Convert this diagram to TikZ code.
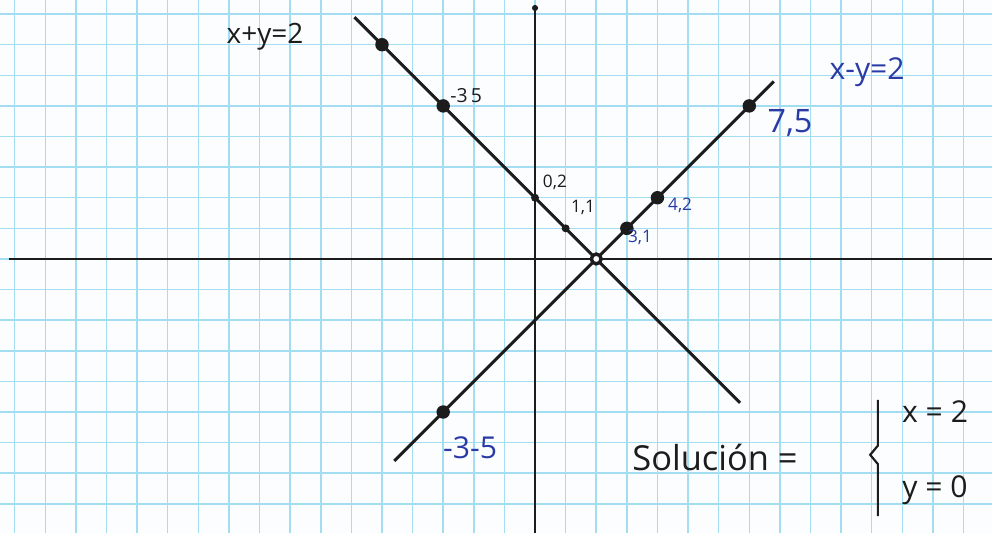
\documentclass[tikz,border=0pt]{standalone}
\usepackage{fontspec}
\setmainfont{Open Sans}
\usetikzlibrary{positioning,calc}
\definecolor{paper}{HTML}{FBFDFE}
\definecolor{gridline}{HTML}{A3DDF2}
\definecolor{ink}{HTML}{1C1C1C}
\definecolor{pen}{HTML}{2A3BA6}

\begin{document}
\begin{tikzpicture}[x=0.5cm,y=0.5cm,
  pt/.style={circle,fill=ink,inner sep=0pt,minimum size=2.2mm},
  ptsmall/.style={circle,fill=ink,inner sep=0pt,minimum size=1.3mm},
  ptopen/.style={circle,draw=ink,fill=paper,line width=1.6pt,inner sep=0pt,minimum size=1.6mm},
  lab/.style={text=ink,inner sep=1pt},
  bluelab/.style={text=pen,inner sep=1pt}]
\fill[paper] (-17.48,-8.95) rectangle (14.93,8.46);
\useasboundingbox (-17.48,-8.95) rectangle (14.93,8.46);
\draw[gridline,line width=0.7pt,step=0.5cm] (-17.48,-8.95) grid (14.93,8.46);
% axes
\coordinate (xl) at (-17.2,0);\coordinate (xr) at (14.93,0);
\coordinate (yt) at (0,8.2);\coordinate (yb) at (0,-8.95);
\draw[ink,line width=1.3pt] (xl)--(xr);\draw[ink,line width=1.3pt] (yt)--(yb);
\fill[ink] (yt) circle (0.1);
% lines
\coordinate (a1) at (-5.9,7.9);\coordinate (a2) at (6.7,-4.7);
\coordinate (b1) at (-4.6,-6.6);\coordinate (b2) at (7.8,5.8);
\draw[ink,line width=1.4pt] (a1)--(a2);\draw[ink,line width=1.4pt] (b1)--(b2);
% points
\node[pt] (p57) at (-5,7){};\node[pt] (p35) at (-3,5){};
\node[ptsmall] (p02) at (0,2){};\node[ptsmall] (p11) at (1,1){};
\node[ptopen] (p20) at (2,0){};
\node[pt] (p31) at (3,1){};\node[pt] (p42) at (4,2){};
\node[pt] (p75) at (7,5){};\node[pt] (pm35) at (-3,-5){};
% labels
\node[lab,font=\fontsize{13}{15}\selectfont] (eqa) at (-8.82,7.25){x+y=2};
\node[bluelab,font=\fontsize{14}{16}\selectfont] (eqb) at (10.85,6.11){x-y=2};
\node[lab,font=\fontsize{9}{11}\selectfont] (l35) at (-2.25,5.35){-3\,5};
\node[lab,font=\fontsize{8}{10}\selectfont] (l02) at (0.65,2.5){0,2};
\node[lab,font=\fontsize{8}{10}\selectfont] (l11) at (1.57,1.67){1,1};
\node[bluelab,font=\fontsize{8}{10}\selectfont] (l31) at (3.43,0.72){3,1};
\node[bluelab,font=\fontsize{8}{10}\selectfont] (l42) at (4.74,1.76){4,2};
\node[bluelab,font=\fontsize{15}{17}\selectfont] (l75) at (8.33,4.44){7,5};
\node[bluelab,font=\fontsize{14}{16}\selectfont] (lm35) at (-2.12,-6.18){-3-5};
% solution
\node[lab,font=\fontsize{16}{18}\selectfont] (sol) at (5.88,-6.5){Solución =};
\node[lab,font=\fontsize{14}{16}\selectfont] (sx) at (13.07,-5.0){x = 2};
\node[lab,font=\fontsize{14}{16}\selectfont] (sy) at (13.07,-7.55){y = 0};
\coordinate (bt) at (11.2,-4.6);\coordinate (bm) at (10.95,-6.4);\coordinate (bb) at (11.2,-8.4);
\draw[ink,line width=1pt] (bt)--(11.2,-6.1)--(bm)--(11.2,-6.7)--(bb);
\end{tikzpicture}
\end{document}
